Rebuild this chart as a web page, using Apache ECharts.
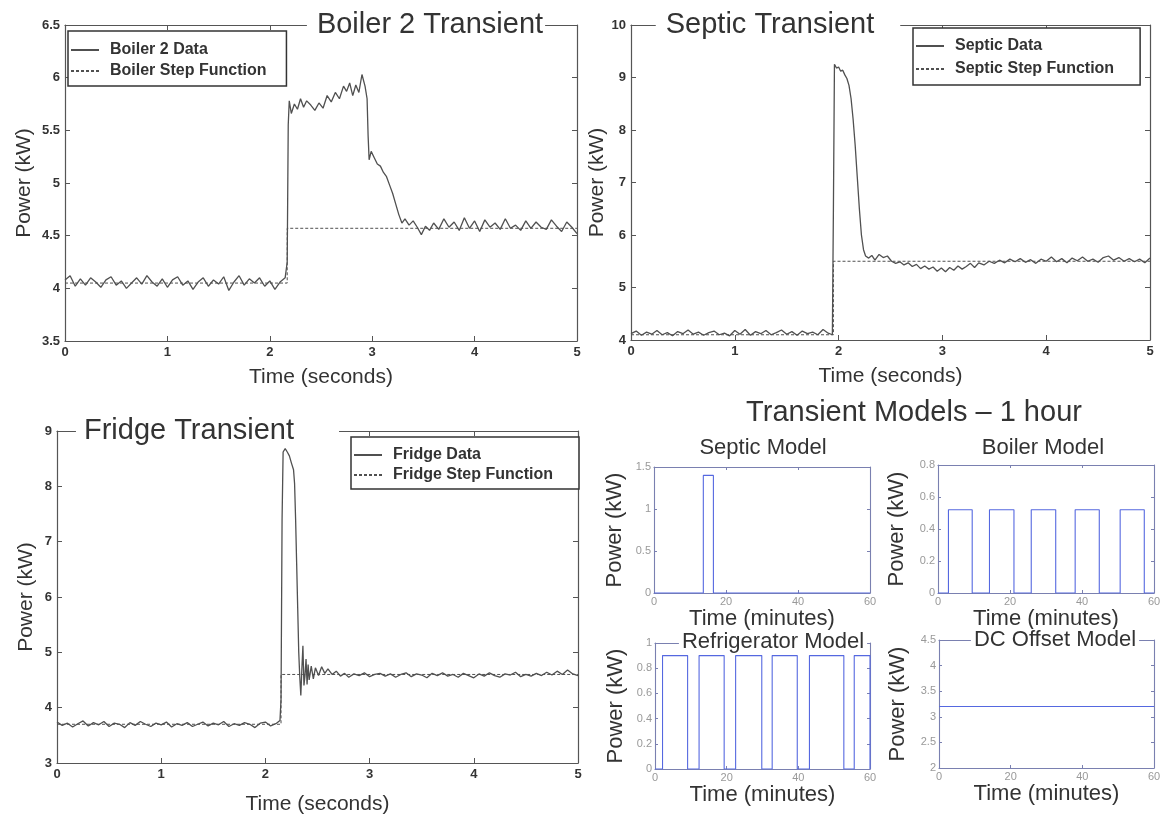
<!DOCTYPE html>
<html>
<head>
<meta charset="utf-8">
<title>Transient Models</title>
<script src="https://cdn.jsdelivr.net/npm/echarts@6/dist/echarts.min.js"></script>
<style>
html, body { margin: 0; padding: 0; background: #fff; }
#main { width: 1161px; height: 816px; }
</style>
</head>
<body>
<div id="main"></div>
<script>
// measured transients: [time (s), power (kW)]
var boilerData = [
 [0.00,4.08],[0.05,4.12],[0.10,4.02],[0.15,4.09],[0.20,4.03],[0.25,4.10],[0.30,4.06],[0.35,4.01],[0.40,4.08],[0.45,4.11],
 [0.50,4.03],[0.55,4.07],[0.60,4.00],[0.65,4.05],[0.70,4.10],[0.75,4.04],[0.80,4.12],[0.85,4.06],[0.90,4.02],[0.95,4.09],
 [1.00,4.01],[1.05,4.08],[1.10,4.11],[1.15,4.03],[1.20,4.07],[1.25,3.99],[1.30,4.06],[1.35,4.10],[1.40,4.02],[1.45,4.08],
 [1.50,4.04],[1.55,4.11],[1.60,3.98],[1.65,4.06],[1.70,4.12],[1.75,4.03],[1.80,4.09],[1.85,4.05],[1.90,4.10],[1.95,4.02],
 [2.00,4.07],[2.05,3.99],[2.10,4.06],[2.15,4.10],[2.17,4.25],[2.18,5.55],[2.19,5.78],[2.21,5.66],[2.24,5.75],[2.27,5.70],
 [2.30,5.80],[2.33,5.72],[2.36,5.78],[2.40,5.74],[2.44,5.69],[2.48,5.76],[2.52,5.71],[2.56,5.83],[2.60,5.77],[2.64,5.86],
 [2.68,5.80],[2.72,5.92],[2.75,5.87],[2.78,5.95],[2.81,5.83],[2.84,5.93],[2.87,5.86],[2.90,6.03],[2.93,5.92],[2.95,5.80],
 [2.96,5.45],[2.97,5.22],[2.99,5.30],[3.02,5.24],[3.05,5.18],[3.08,5.16],[3.11,5.10],[3.14,5.06],[3.17,4.98],[3.20,4.90],
 [3.23,4.80],[3.26,4.70],[3.29,4.62],[3.32,4.66],[3.36,4.60],[3.40,4.64],[3.44,4.58],[3.48,4.51],[3.52,4.59],[3.56,4.55],
 [3.60,4.62],[3.65,4.56],[3.70,4.66],[3.75,4.58],[3.80,4.63],[3.85,4.55],[3.90,4.67],[3.95,4.57],[4.00,4.64],[4.05,4.54],
 [4.10,4.65],[4.15,4.58],[4.20,4.62],[4.25,4.56],[4.30,4.66],[4.35,4.57],[4.40,4.60],[4.45,4.55],[4.50,4.64],[4.55,4.57],
 [4.60,4.63],[4.65,4.58],[4.70,4.56],[4.75,4.65],[4.80,4.59],[4.85,4.54],[4.90,4.63],[4.95,4.58],[5.00,4.52]
];
var boilerStep = [[0,4.05],[2.17,4.05],[2.17,4.57],[5,4.57]];

var septicData = [
 [0.00,4.12],[0.05,4.17],[0.10,4.09],[0.15,4.15],[0.20,4.11],[0.25,4.18],[0.30,4.10],[0.35,4.14],[0.40,4.08],[0.45,4.16],
 [0.50,4.12],[0.55,4.19],[0.60,4.11],[0.65,4.15],[0.70,4.09],[0.75,4.14],[0.80,4.17],[0.85,4.10],[0.90,4.13],[0.95,4.08],
 [1.00,4.18],[1.05,4.11],[1.10,4.20],[1.15,4.09],[1.20,4.16],[1.25,4.12],[1.30,4.18],[1.35,4.10],[1.40,4.14],[1.45,4.19],
 [1.50,4.11],[1.55,4.16],[1.60,4.09],[1.65,4.17],[1.70,4.12],[1.75,4.15],[1.80,4.10],[1.85,4.20],[1.90,4.13],[1.94,4.10],
 [1.95,6.50],[1.96,9.25],[1.98,9.18],[2.00,9.20],[2.02,9.12],[2.04,9.14],[2.06,9.05],[2.08,8.98],[2.10,8.85],[2.12,8.60],
 [2.14,8.20],[2.16,7.70],[2.18,7.10],[2.20,6.50],[2.22,6.00],[2.24,5.72],[2.26,5.60],[2.29,5.56],[2.32,5.61],[2.35,5.52],
 [2.39,5.63],[2.43,5.57],[2.47,5.60],[2.51,5.50],[2.55,5.46],[2.59,5.49],[2.63,5.43],[2.67,5.47],[2.71,5.40],[2.75,5.44],
 [2.79,5.36],[2.83,5.41],[2.87,5.35],[2.91,5.39],[2.95,5.31],[2.99,5.37],[3.03,5.30],[3.07,5.38],[3.11,5.33],[3.15,5.41],
 [3.19,5.35],[3.23,5.40],[3.27,5.46],[3.31,5.38],[3.35,5.47],[3.40,5.43],[3.45,5.50],[3.50,5.46],[3.55,5.52],[3.60,5.47],
 [3.65,5.54],[3.70,5.49],[3.75,5.55],[3.80,5.48],[3.85,5.53],[3.90,5.46],[3.95,5.54],[4.00,5.50],[4.05,5.58],[4.10,5.49],
 [4.15,5.55],[4.20,5.47],[4.25,5.56],[4.30,5.51],[4.35,5.58],[4.40,5.50],[4.45,5.54],[4.50,5.48],[4.55,5.57],[4.60,5.60],
 [4.65,5.52],[4.70,5.57],[4.75,5.50],[4.80,5.55],[4.85,5.49],[4.90,5.54],[4.95,5.47],[5.00,5.56]
];
var septicStep = [[0,4.1],[1.95,4.1],[1.95,5.5],[5,5.5]];

var fridgeData = [
 [0.00,3.74],[0.05,3.68],[0.10,3.72],[0.15,3.65],[0.20,3.71],[0.25,3.76],[0.30,3.67],[0.35,3.73],[0.40,3.69],[0.45,3.75],
 [0.50,3.66],[0.55,3.72],[0.60,3.70],[0.65,3.64],[0.70,3.73],[0.75,3.68],[0.80,3.75],[0.85,3.70],[0.90,3.66],[0.95,3.72],
 [1.00,3.69],[1.05,3.74],[1.10,3.65],[1.15,3.71],[1.20,3.68],[1.25,3.73],[1.30,3.66],[1.35,3.70],[1.40,3.74],[1.45,3.67],
 [1.50,3.72],[1.55,3.69],[1.60,3.75],[1.65,3.66],[1.70,3.71],[1.75,3.68],[1.80,3.73],[1.85,3.70],[1.90,3.64],[1.95,3.72],
 [2.00,3.74],[2.05,3.67],[2.10,3.71],[2.14,3.77],[2.15,4.15],[2.16,7.40],[2.17,8.62],[2.19,8.68],[2.21,8.62],[2.23,8.55],
 [2.25,8.42],[2.27,8.30],[2.28,8.05],[2.29,7.40],[2.30,6.60],[2.31,5.80],[2.32,5.00],[2.33,4.55],[2.34,4.22],[2.35,4.70],
 [2.36,5.12],[2.37,4.40],[2.38,4.58],[2.39,4.88],[2.40,4.42],[2.41,4.78],[2.42,4.50],[2.44,4.75],[2.46,4.52],[2.48,4.72],
 [2.51,4.58],[2.54,4.74],[2.57,4.62],[2.60,4.70],[2.64,4.60],[2.68,4.66],[2.72,4.57],[2.76,4.62],[2.80,4.55],[2.85,4.61],
 [2.90,4.58],[2.95,4.63],[3.00,4.56],[3.05,4.60],[3.10,4.62],[3.15,4.57],[3.20,4.61],[3.25,4.55],[3.30,4.60],[3.35,4.63],
 [3.40,4.56],[3.45,4.61],[3.50,4.59],[3.55,4.54],[3.60,4.62],[3.65,4.58],[3.70,4.63],[3.75,4.57],[3.80,4.60],[3.85,4.55],
 [3.90,4.62],[3.95,4.58],[4.00,4.54],[4.05,4.61],[4.10,4.57],[4.15,4.63],[4.20,4.58],[4.25,4.55],[4.30,4.61],[4.35,4.59],
 [4.40,4.64],[4.45,4.56],[4.50,4.60],[4.55,4.57],[4.60,4.62],[4.65,4.58],[4.70,4.64],[4.75,4.59],[4.80,4.66],[4.85,4.60],
 [4.90,4.68],[4.95,4.61],[5.00,4.58]
];
var fridgeStep = [[0,3.7],[2.15,3.7],[2.15,4.6],[5,4.6]];

// 1 hour models: on/off edges in minutes, and the on level in kW
var septicPulses = [[13.7,16.5]];
var septicLevel = 1.4;
var boilerPulses = [[2.9,9.5],[14.3,21.1],[25.9,32.7],[38.1,44.8],[50.6,57.3]];
var boilerLevel = 0.52;
var fridgePulses = [[2.1,9.1],[12.3,19.3],[22.5,29.8],[32.7,39.7],[43.1,52.7],[55.6,60]];
var fridgeLevel = 0.9;
var dcLevel = 3.2;

// axis ranges [min, max, interval]
var secRange = [0, 5, 1];
var minRange = [0, 60, 20];
var boilerRange = [3.5, 6.5, 0.5];
var septicRange = [4, 10, 1];
var fridgeRange = [3, 9, 1];
var septicModelRange = [0, 1.5, 0.5];
var boilerModelRange = [0, 0.8, 0.2];
var fridgeModelRange = [0, 1, 0.2];
var dcRange = [2, 4.5, 0.5];

var FONT = '"Liberation Sans", Arial, Helvetica, sans-serif';
var SOLID_ICON = 'path://M0,0h28v2h-28z';
var DASH_ICON = 'path://M0,0h3v2h-3zM5,0h3v2h-3zM10,0h3v2h-3zM15,0h3v2h-3zM20,0h3v2h-3zM25,0h3v2h-3z';

function pulseLine(pulses, level) {
    var pts = [[0, 0]];
    pulses.forEach(function (p) {
        pts.push([p[0], 0], [p[0], level], [p[1], level], [p[1], 0]);
    });
    pts.push([60, 0]);
    return pts;
}

// big panels are dark grey, small model panels blue-grey
var bigStyle = { frame: '#555', frameW: 1.2, tick: 5, margin: 5, labelSize: 13, labelWeight: 'bold', labelColor: '#333', nameSize: 21 };
var smallStyle = { frame: '#7a80b0', frameW: 1.1, tick: 3, margin: 3, labelSize: 11, labelWeight: 'normal', labelColor: '#999', nameSize: 22 };

function makeAxis(gi, r, st, dim, mirror, name, gap) {
    var ax = {
        type: 'value', gridIndex: gi, min: r[0], max: r[1], interval: r[2],
        position: dim === 'x' ? (mirror ? 'top' : 'bottom') : (mirror ? 'right' : 'left'),
        axisLine: { show: true, onZero: false, lineStyle: { color: st.frame, width: st.frameW } },
        axisTick: { show: true, inside: true, length: st.tick, lineStyle: { color: st.frame } },
        splitLine: { show: false },
        axisLabel: { show: !mirror, margin: st.margin, fontSize: st.labelSize, fontWeight: st.labelWeight, color: st.labelColor, fontFamily: FONT }
    };
    if (!mirror) {
        ax.name = name;
        ax.nameLocation = 'middle';
        ax.nameGap = gap;
        ax.nameTextStyle = { fontSize: st.nameSize, color: '#333', fontFamily: FONT };
    }
    return ax;
}

var grids = [];
var xAxes = [];
var yAxes = [];
var series = [];

function panel(box, st, xr, yr, xName, xGap, yName, yGap) {
    var gi = grids.length;
    grids.push({ left: box[0], top: box[1], width: box[2], height: box[3], outerBoundsMode: 'none' });
    xAxes.push(makeAxis(gi, xr, st, 'x', false, xName, xGap), makeAxis(gi, xr, st, 'x', true));
    yAxes.push(makeAxis(gi, yr, st, 'y', false, yName, yGap), makeAxis(gi, yr, st, 'y', true));
    return gi * 2;
}

function addLine(ai, name, data, color, width, dashed) {
    series.push({
        type: 'line', name: name, xAxisIndex: ai, yAxisIndex: ai, data: data,
        symbol: 'none', showSymbol: false, animation: false,
        lineStyle: { color: color, width: width, type: dashed ? [3, 2] : 'solid' },
        itemStyle: { color: color }
    });
}

var p1 = panel([65, 25, 512, 316], bigStyle, secRange, boilerRange, 'Time (seconds)', 26, 'Power (kW)', 30);
addLine(p1, 'Boiler 2 Data', boilerData, '#505050', 1.3, false);
addLine(p1, 'Boiler Step Function', boilerStep, '#505050', 1, true);

var p2 = panel([631, 25, 519, 315], bigStyle, secRange, septicRange, 'Time (seconds)', 26, 'Power (kW)', 16);
addLine(p2, 'Septic Data', septicData, '#505050', 1.3, false);
addLine(p2, 'Septic Step Function', septicStep, '#505050', 1, true);

var p3 = panel([57, 431, 521, 332], bigStyle, secRange, fridgeRange, 'Time (seconds)', 31, 'Power (kW)', 20);
addLine(p3, 'Fridge Data', fridgeData, '#505050', 1.3, false);
addLine(p3, 'Fridge Step Function', fridgeStep, '#505050', 1, true);

var blue = '#5568e0';
var p4 = panel([654, 467, 216, 126], smallStyle, minRange, septicModelRange, 'Time (minutes)', 9, 'Power (kW)', 28);
addLine(p4, 'Septic Model', pulseLine(septicPulses, septicLevel), blue, 1.1, false);

var p5 = panel([938, 465, 216, 128], smallStyle, minRange, boilerModelRange, 'Time (minutes)', 9, 'Power (kW)', 30);
addLine(p5, 'Boiler Model', pulseLine(boilerPulses, boilerLevel), blue, 1.1, false);

var p6 = panel([655, 643, 215, 126], smallStyle, minRange, fridgeModelRange, 'Time (minutes)', 9, 'Power (kW)', 28);
addLine(p6, 'Refrigerator Model', pulseLine(fridgePulses, fridgeLevel), blue, 1.1, false);

var p7 = panel([939, 640, 215, 128], smallStyle, minRange, dcRange, 'Time (minutes)', 9, 'Power (kW)', 30);
addLine(p7, 'DC Offset Model', [[0, dcLevel], [60, dcLevel]], blue, 1.1, false);

function legendBox(names, left, top, pad, gap) {
    return {
        data: [{ name: names[0], icon: SOLID_ICON }, { name: names[1], icon: DASH_ICON }],
        left: left, top: top, orient: 'vertical', selectedMode: false,
        itemWidth: 28, itemHeight: 2, itemGap: gap, padding: pad,
        borderColor: '#333', borderWidth: 1.5, backgroundColor: '#fff',
        itemStyle: { color: '#505050' },
        textStyle: { fontSize: 16, fontWeight: 'bold', color: '#333', fontFamily: FONT, padding: [0, 0, 0, 6] }
    };
}

// titles sit on the top frame line with a white box, as in MATLAB
// cx is the text centre; the box is shifted by the uneven padding
function title(text, cx, y, size, pad) {
    return {
        type: 'text', z: 100, x: cx + (pad[1] - pad[3]) / 2, y: y,
        style: {
            text: text, font: size + 'px ' + FONT, fill: '#333',
            align: 'center', verticalAlign: 'middle',
            backgroundColor: '#fff', padding: pad
        }
    };
}

var option = {
    backgroundColor: '#fff',
    animation: false,
    grid: grids,
    xAxis: xAxes,
    yAxis: yAxes,
    legend: [
        legendBox(['Boiler 2 Data', 'Boiler Step Function'], 68, 31, [11, 20, 7, 3], 5),
        legendBox(['Septic Data', 'Septic Step Function'], 913, 28, [10, 26, 8, 3], 7),
        legendBox(['Fridge Data', 'Fridge Step Function'], 351, 437, [10, 26, 6, 3], 4)
    ],
    graphic: [
        title('Boiler 2 Transient', 430, 25, 29, [0, 2, 0, 10]),
        title('Septic Transient', 770, 25, 29, [0, 26, 0, 10]),
        title('Fridge Transient', 189, 431, 29, [0, 45, 0, 8]),
        title('Transient Models \u2013 1 hour', 914, 413, 29, [0, 0, 0, 0]),
        title('Septic Model', 763, 448, 22, [0, 0, 0, 0]),
        title('Boiler Model', 1043, 448, 22, [0, 0, 0, 0]),
        title('Refrigerator Model', 773, 642, 22, [0, 3, 0, 3]),
        title('DC Offset Model', 1055, 640, 22, [0, 3, 0, 3])
    ],
    series: series
};

var chart = echarts.init(document.getElementById('main'));
chart.setOption(option);
</script>
</body>
</html>
